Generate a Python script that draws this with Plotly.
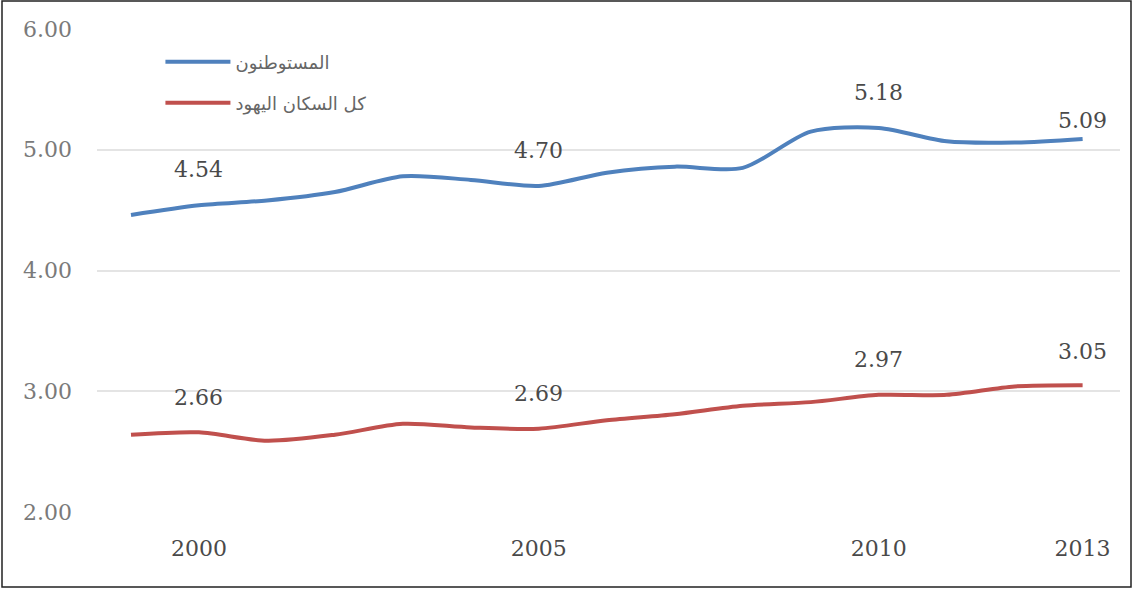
import plotly.graph_objects as go

years = list(range(1999, 2014))
settlers = [4.46, 4.54, 4.58, 4.65, 4.78, 4.75, 4.70, 4.81, 4.86, 4.85, 5.15, 5.18, 5.07, 5.06, 5.09]
all_jews = [2.64, 2.66, 2.59, 2.64, 2.73, 2.70, 2.69, 2.76, 2.81, 2.88, 2.91, 2.97, 2.97, 3.04, 3.05]

series_names = ["المستوطنون", "كل السكان اليهود"]
label_years = [2000, 2005, 2010, 2013]
tick_years = [2000, 2005, 2010, 2013]
y_ticks = [2, 3, 4, 5, 6]

blue = "#4f81bd"
red = "#c0504d"
num_font = "DejaVu Serif"

fig = go.Figure()
fig.add_trace(go.Scatter(x=years, y=settlers, mode="lines", name=series_names[0],
                         line=dict(color=blue, width=4, shape="spline", smoothing=0.8),
                         legend="legend"))
fig.add_trace(go.Scatter(x=years, y=all_jews, mode="lines", name=series_names[1],
                         line=dict(color=red, width=4, shape="spline", smoothing=0.8),
                         legend="legend2"))

# value labels above the selected years
for series, shifts in ((settlers, [36, 35, 36, 18]), (all_jews, [35, 35, 35, 34])):
    for yr, sh in zip(label_years, shifts):
        v = series[years.index(yr)]
        fig.add_annotation(x=yr, y=v, text=f"{v:.2f}", showarrow=False, yshift=sh,
                           font=dict(family=num_font, size=22, color="#4a4a4a"))

# outer frame
L, R, T, B = 97, 14, 29, 77
W, H = 1134, 589
pw, ph = W - L - R, H - T - B
fig.add_shape(type="rect", xref="paper", yref="paper",
              x0=(2 - L) / pw, x1=(W - 3 - L) / pw,
              y0=-(H - 2 - (H - B)) / ph, y1=(H - B - 1) / ph,
              line=dict(color="#222222", width=1.5), layer="above")

legend_font = dict(family="DejaVu Sans", size=18, color="#666666")
fig.update_layout(
    width=W, height=H,
    margin=dict(l=L, r=R, t=T, b=B),
    paper_bgcolor="white", plot_bgcolor="white",
    showlegend=True,
    legend=dict(x=0.062, y=(H - B - 62) / ph, xanchor="left", yanchor="middle",
                font=legend_font, itemwidth=65, bgcolor="rgba(0,0,0,0)"),
    legend2=dict(x=0.062, y=(H - B - 103) / ph, xanchor="left", yanchor="middle",
                 font=legend_font, itemwidth=65, bgcolor="rgba(0,0,0,0)"),
    xaxis=dict(range=[1998.5, 2013.55], tickvals=tick_years, ticktext=[str(t) for t in tick_years],
               showgrid=False, zeroline=False, showline=False, ticks="",
               tickfont=dict(family=num_font, size=22, color="#4a4a4a"),
               ticklabelstandoff=21),
    yaxis=dict(range=[2, 6], tickvals=y_ticks, tickformat=".2f",
               showgrid=True, gridcolor="#e4e4e4", gridwidth=1.5, zeroline=False, showline=False,
               ticks="", tickfont=dict(family=num_font, size=22, color="#7a7a7a"),
               ticklabelstandoff=24),
)

fig.write_html("out.html")
